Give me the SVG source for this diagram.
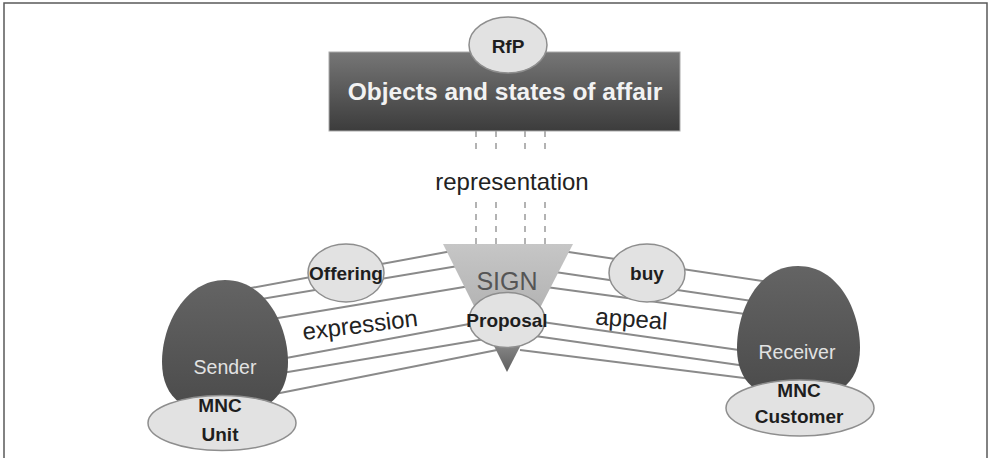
<svg xmlns="http://www.w3.org/2000/svg" width="988" height="458" viewBox="0 0 988 458">
<defs>
<linearGradient id="gRect" x1="0" y1="0" x2="0" y2="1"><stop offset="0" stop-color="#767676"/><stop offset="1" stop-color="#3c3c3c"/></linearGradient>
<linearGradient id="gTri" x1="0" y1="0" x2="0" y2="1"><stop offset="0" stop-color="#c6c6c6"/><stop offset="0.55" stop-color="#b2b2b2"/><stop offset="1" stop-color="#5e5e5e"/></linearGradient>
<linearGradient id="gEgg" x1="0" y1="0" x2="0" y2="1"><stop offset="0" stop-color="#646464"/><stop offset="1" stop-color="#4a4a4a"/></linearGradient>
</defs>
<style>
.lbl{font-family:"Liberation Sans",Arial,sans-serif;text-anchor:middle}
.ell{fill:#e2e2e2;stroke:#8e8e8e;stroke-width:1.5}
.etx{font-size:19px;font-weight:bold;fill:#1e1e1e}
.ln{stroke:#8a8a8a;stroke-width:2;fill:none}
.dash{stroke:#9a9a9a;stroke-width:1.5;stroke-dasharray:6 6}
.big{font-size:24px;fill:#222}
.egt{font-size:19.5px;fill:#e2e2e2}
</style>
<rect width="988" height="458" fill="#fff"/>
<path d="M4,458 V3 H987 V458" fill="none" stroke="#5a5a5a" stroke-width="1.5"/>

<g id="connectors">
  <line class="dash" x1="476" y1="131" x2="476" y2="153"/>
  <line class="dash" x1="496" y1="131" x2="496" y2="153"/>
  <line class="dash" x1="525" y1="131" x2="525" y2="153"/>
  <line class="dash" x1="545" y1="131" x2="545" y2="153"/>
  <line class="dash" x1="476" y1="202" x2="476" y2="244"/>
  <line class="dash" x1="496" y1="202" x2="496" y2="244"/>
  <line class="dash" x1="525" y1="202" x2="525" y2="244"/>
  <line class="dash" x1="545" y1="202" x2="545" y2="244"/>
  <line class="ln" x1="240" y1="290" x2="452" y2="251"/>
  <line class="ln" x1="250" y1="301" x2="458" y2="266"/>
  <line class="ln" x1="260" y1="321" x2="470" y2="286"/>
  <line class="ln" x1="270" y1="361" x2="480" y2="322"/>
  <line class="ln" x1="270" y1="375" x2="485" y2="339"/>
  <line class="ln" x1="270" y1="395" x2="497" y2="350"/>
  <line class="ln" x1="562" y1="251" x2="775" y2="283"/>
  <line class="ln" x1="555" y1="272" x2="765" y2="303"/>
  <line class="ln" x1="546" y1="287" x2="760" y2="316"/>
  <line class="ln" x1="535" y1="321" x2="760" y2="353"/>
  <line class="ln" x1="535" y1="336" x2="760" y2="368"/>
  <line class="ln" x1="520" y1="350" x2="760" y2="380"/>
</g>

<g id="objects">
  <rect x="329" y="52" width="351" height="79" fill="url(#gRect)" stroke="#aaa" stroke-width="1"/>
  <text class="lbl" x="505" y="100" font-size="24.5" font-weight="bold" fill="#f2f2f2">Objects and states of affair</text>
</g>
<g id="rfp">
  <ellipse class="ell" cx="508" cy="45" rx="39" ry="28"/>
  <text class="lbl etx" x="508" y="53">RfP</text>
</g>
<g id="representation-label">
  <text class="lbl big" x="512" y="190">representation</text>
</g>
<g id="sign">
  <polygon points="443,244 573,244 507,372" fill="url(#gTri)"/>
  <text class="lbl" x="507" y="290" font-size="25" fill="#555">SIGN</text>
</g>
<g id="proposal">
  <ellipse class="ell" cx="507" cy="320" rx="38" ry="27.5"/>
  <text class="lbl etx" x="507" y="327">Proposal</text>
</g>
<g id="offering">
  <ellipse class="ell" cx="346" cy="273" rx="38" ry="29"/>
  <text class="lbl etx" x="346" y="280">Offering</text>
</g>
<g id="buy">
  <ellipse class="ell" cx="647" cy="273" rx="38" ry="29"/>
  <text class="lbl etx" x="647" y="280">buy</text>
</g>
<g id="expression-label">
  <text class="lbl big" x="361" y="333" transform="rotate(-7 361 333)">expression</text>
</g>
<g id="appeal-label">
  <text class="lbl big" x="631" y="327" transform="rotate(4 631 327)">appeal</text>
</g>
<g id="sender">
  <path d="M225,280 C265,280 288,325 288,362 C288,400 262,415 225,415 C188,415 162,400 162,362 C162,325 185,280 225,280 Z" fill="url(#gEgg)"/>
  <text class="lbl egt" x="225" y="374">Sender</text>
</g>
<g id="mnc-unit">
  <ellipse class="ell" cx="222" cy="423" rx="74" ry="27.5"/>
  <text class="lbl etx" x="220" y="412" font-size="20">MNC</text>
  <text class="lbl etx" x="220" y="441" font-size="20">Unit</text>
</g>
<g id="receiver">
  <path d="M798,266 C838,266 860,310 860,348 C860,385 835,400 798,400 C761,400 737,385 737,348 C737,310 758,266 798,266 Z" fill="url(#gEgg)"/>
  <text class="lbl egt" x="797" y="359">Receiver</text>
</g>
<g id="mnc-customer">
  <ellipse class="ell" cx="800" cy="408" rx="74" ry="28"/>
  <text class="lbl etx" x="799" y="397" font-size="20">MNC</text>
  <text class="lbl etx" x="799" y="423" font-size="20">Customer</text>
</g>
</svg>
